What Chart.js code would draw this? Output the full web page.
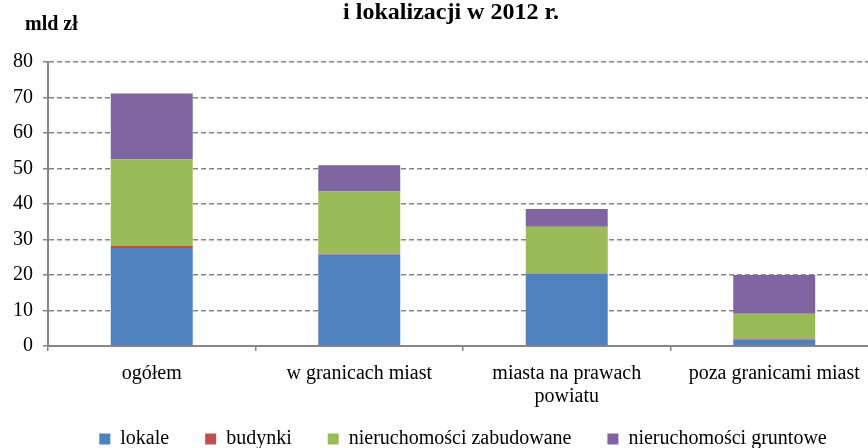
<!DOCTYPE html>
<html>
<head>
<meta charset="utf-8">
<script src="https://cdn.jsdelivr.net/npm/chart.js@4/dist/chart.umd.min.js"></script>
<style>
  html, body { margin: 0; padding: 0; overflow: hidden; background: #fff; }
  canvas { display: block; }
</style>
</head>
<body>
<canvas id="wykres" width="900" height="485"></canvas>
<script>
// ===== DANE =====
const kategorie = ["ogółem", "w granicach miast", ["miasta na prawach", "powiatu"], "poza granicami miast"];
const lokale = [27.6, 25.8, 20.4, 1.8];
const budynki = [0.6, 0.2, 0.1, 0.3];
const zabudowane = [24.4, 17.5, 13.1, 7.0];
const gruntowe = [18.5, 7.4, 5.0, 10.9];
const tytul = "i lokalizacji w 2012 r.";
const jednostka = "mld zł";

const czcionka = "'Liberation Serif', 'Times New Roman', serif";
const szary = "#868686";

// tytuł (druga linia) i napis "mld zł"
const napisy = {
    id: "napisy",
    afterLayout(chart) {
        // legenda trochę wyżej, bliżej osi
        if (chart.legend) {
            chart.legend.top -= 26;
            chart.legend.bottom -= 26;
        }
    },
    afterDraw(chart) {
        const ctx = chart.ctx;
        ctx.save();
        ctx.fillStyle = "#000";
        ctx.textBaseline = "middle";
        ctx.font = "bold 24px " + czcionka;
        ctx.textAlign = "center";
        ctx.fillText(tytul, 451, 13);
        ctx.font = "bold 20px " + czcionka;
        ctx.textAlign = "left";
        ctx.fillText(jednostka, 25, 25);
        ctx.restore();
    }
};

new Chart(document.getElementById("wykres"), {
    type: "bar",
    data: {
        labels: kategorie,
        datasets: [
            { label: "lokale", data: lokale, backgroundColor: "#4F81BD" },
            { label: "budynki", data: budynki, backgroundColor: "#C0504D" },
            { label: "nieruchomości zabudowane", data: zabudowane, backgroundColor: "#9BBB59" },
            { label: "nieruchomości gruntowe", data: gruntowe, backgroundColor: "#8064A2" }
        ]
    },
    options: {
        responsive: false,
        animation: false,
        layout: { padding: { left: 3, right: 22, top: 62, bottom: 0 } },
        datasets: {
            bar: { categoryPercentage: 1, barPercentage: 0.395, borderWidth: 0 }
        },
        plugins: {
            tooltip: { enabled: false },
            title: { display: false },
            legend: {
                position: "bottom",
                fullSize: false,
                labels: {
                    color: "#000",
                    font: { family: czcionka, size: 20 },
                    boxWidth: 11,
                    boxHeight: 11,
                    padding: 36
                }
            }
        },
        scales: {
            x: {
                stacked: true,
                grid: { drawOnChartArea: false, drawTicks: true, tickLength: 5, color: szary, lineWidth: 1.5, offset: true },
                border: { display: true, color: szary, width: 2 },
                ticks: {
                    color: "#000",
                    padding: 11,
                    maxRotation: 0,
                    autoSkip: false,
                    font: { family: czcionka, size: 20, lineHeight: 1.15 }
                }
            },
            y: {
                stacked: true,
                min: 0,
                max: 80,
                grid: { color: szary, lineWidth: 1.5, tickLength: 5, tickColor: szary },
                border: { display: true, color: szary, width: 2, dash: [5, 3] },
                ticks: {
                    stepSize: 10,
                    color: "#000",
                    padding: 10,
                    font: { family: czcionka, size: 20 }
                }
            }
        }
    },
    plugins: [napisy]
});
</script>
</body>
</html>
